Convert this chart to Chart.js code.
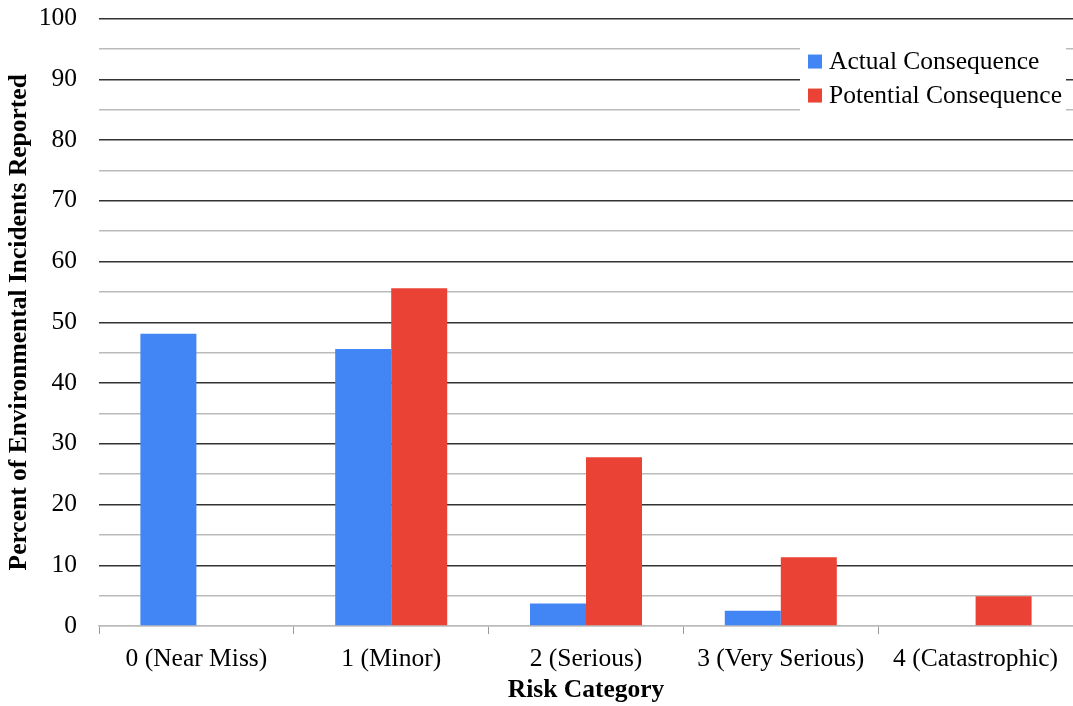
<!DOCTYPE html>
<html>
<head>
<meta charset="utf-8">
<script src="https://cdn.jsdelivr.net/npm/chart.js@4/dist/chart.umd.min.js"></script>
<style>
  html, body { margin: 0; padding: 0; background: #fff; overflow: hidden; }
  #wrap { width: 1073px; height: 712px; margin-top: -6px; }
</style>
</head>
<body>
<div id="wrap"><canvas id="riskChart"></canvas></div>
<script>
const categories = ['0 (Near Miss)', '1 (Minor)', '2 (Serious)', '3 (Very Serious)', '4 (Catastrophic)'];
const actualValues = [48.1, 45.6, 3.7, 2.5, 0];
const potentialValues = [0, 55.6, 27.8, 11.3, 4.9];
const seriesNames = ['Actual Consequence', 'Potential Consequence'];
const yTicks = [0, 10, 20, 30, 40, 50, 60, 70, 80, 90, 100];

const blue = '#4285F4';
const red = '#EA4335';
const serif = '"Liberation Serif", "Times New Roman", serif';
const fs = 25.5;

// legend drawn inside the plot, on a white box over the gridlines
const boxLegend = {
    id: 'boxLegend',
    afterDatasetsDraw(chart) {
        const ctx = chart.ctx;
        const x0 = 800;
        const y0 = chart.chartArea.top + 23;
        ctx.save();
        ctx.fillStyle = '#fff';
        ctx.fillRect(x0, y0, 266, 74);
        ctx.font = fs + 'px ' + serif;
        ctx.textBaseline = 'middle';
        chart.data.datasets.forEach((ds, i) => {
            const cy = y0 + 20 + i * 34;
            ctx.fillStyle = ds.backgroundColor;
            ctx.fillRect(x0 + 8, cy - 7, 14, 14);
            ctx.fillStyle = '#000';
            ctx.fillText(ds.label, x0 + 29, cy + 1);
        });
        ctx.restore();
    }
};

new Chart(document.getElementById('riskChart'), {
    type: 'bar',
    data: {
        labels: categories,
        datasets: [
            { label: seriesNames[0], data: actualValues, backgroundColor: blue },
            { label: seriesNames[1], data: potentialValues, backgroundColor: red }
        ]
    },
    options: {
        responsive: true,
        maintainAspectRatio: false,
        animation: false,
        layout: { padding: { top: 12, right: 0, left: 0, bottom: 0 } },
        datasets: { bar: { categoryPercentage: 0.575, barPercentage: 1 } },
        plugins: {
            legend: { display: false },
            tooltip: { enabled: false }
        },
        scales: {
            x: {
                grid: { offset: true, drawOnChartArea: false, color: '#999', tickLength: 8 },
                border: { color: '#bbb', width: 1.5 },
                ticks: { color: '#000', font: { family: serif, size: fs }, padding: 10 },
                title: { display: true, text: 'Risk Category', color: '#000',
                    font: { family: serif, size: fs, weight: 'bold' }, padding: { top: 0, bottom: 0 } },
                afterFit: s => { s.height = 80; }
            },
            y: {
                min: 0, max: 100,
                afterBuildTicks: s => {
                    const t = [];
                    yTicks.forEach(v => { t.push({ value: v }); if (v < 100) t.push({ value: v + 5 }); });
                    s.ticks = t;
                },
                grid: {
                    drawTicks: false,
                    lineWidth: 1.5,
                    color: c => (c.tick.value === 0 ? '#bbb' : (c.tick.value % 10 === 0 ? '#333' : '#bbb'))
                },
                border: { display: false },
                ticks: {
                    color: '#000', padding: 22, autoSkip: false,
                    font: { family: serif, size: fs, lineHeight: 0.2 },
                    callback: v => (yTicks.includes(v) ? v : '')
                },
                title: { display: true, text: 'Percent of Environmental Incidents Reported', color: '#000',
                    font: { family: serif, size: fs, weight: 'bold' }, padding: { bottom: 4 } },
                afterFit: s => { s.width = 99; }
            }
        }
    },
    plugins: [boxLegend]
});
</script>
</body>
</html>
